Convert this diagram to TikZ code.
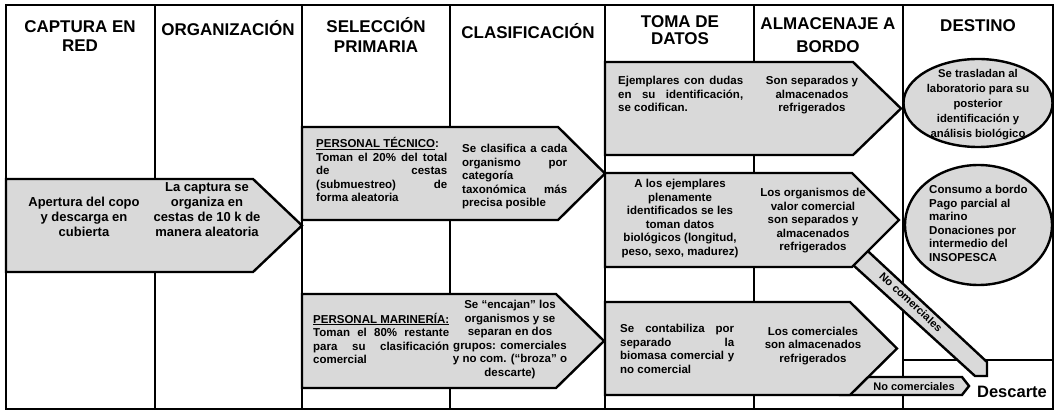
\documentclass[tikz,border=0pt]{standalone}
\usepackage{fontspec}
\setmainfont{Liberation Sans}
\usetikzlibrary{shapes.geometric}
\definecolor{boxgray}{HTML}{D9D9D9}
\begin{document}
\begin{tikzpicture}[x=1pt,y=-1pt,
  divider/.style={line width=2.8pt},
  chevron/.style={draw=black, fill=boxgray, line width=2.4pt, line join=miter},
  destell/.style={ellipse, draw=black, fill=boxgray, line width=2.4pt, inner sep=0pt},
  hdr/.style={font=\bfseries\fontsize{17}{#1}\selectfont, align=center, inner sep=0pt, anchor=base},
  hdr/.default=19,
  bodyc/.style={font=\bfseries\fontsize{11.5}{13.5}\selectfont, align=center, inner sep=0pt, anchor=base},
  bodyl/.style={font=\bfseries\fontsize{11.5}{13.5}\selectfont, align=left, inner sep=0pt, anchor=base west},
  bigc/.style={font=\bfseries\fontsize{13}{15}\selectfont, align=center, inner sep=0pt, anchor=base},
  smallc/.style={font=\bfseries\fontsize{11}{13}\selectfont, inner sep=0pt},
]
\useasboundingbox[fill=white] (0,0) rectangle (1058,414);

% column dividers
\draw[divider] (155,5) -- (155,409);
\draw[divider] (302,5) -- (302,409);
\draw[divider] (450,5) -- (450,409);
\draw[divider] (605,5) -- (605,409);
\draw[divider] (754,5) -- (754,409);
\draw[divider] (903,5) -- (903,409);
\draw[divider] (903,360) -- (1053,360);

% diagonal "No comerciales" band and small arrow (under the chevrons)
\path[chevron] (857,241) -- (987,362) -- (987,376) -- (975,376) -- (841,254) -- cycle;
\path[chevron] (840,377) -- (962,377) -- (969,386) -- (962,395) -- (840,395) -- cycle;

% chevrons
\path[chevron] (6,179) -- (253,179) -- (302,225.5) -- (253,272) -- (6,272) -- cycle;
\path[chevron] (302,127) -- (558,127) -- (605,173.5) -- (558,220) -- (302,220) -- cycle;
\path[chevron] (302,294) -- (556,294) -- (604,341) -- (556,388) -- (302,388) -- cycle;
\path[chevron] (605,62) -- (853,62) -- (901,108.5) -- (853,155) -- (605,155) -- cycle;
\path[chevron] (605,173) -- (852,173) -- (899,220) -- (852,267) -- (605,267) -- cycle;
\path[chevron] (605,302) -- (850,302) -- (897,348.5) -- (850,395) -- (605,395) -- cycle;

% destination ellipses
\node[destell, minimum width=149pt, minimum height=88pt] (dest1) at (978,103) {};
\node[destell, minimum width=147pt, minimum height=120pt] (dest2) at (978.5,225) {};

% outer frame
\draw[divider] (6,5) rectangle (1053,409);

% headers (anchor = baseline of last line)
\node[hdr] (h1) at (80,52) {CAPTURA EN\\RED};
\node[hdr] (h2) at (228,36) {ORGANIZACIÓN};
\node[hdr=20] (h3) at (376,53) {SELECCIÓN\\PRIMARIA};
\node[hdr] (h4) at (528,39) {CLASIFICACIÓN};
\node[hdr=17] (h5) at (680,45) {TOMA DE\\DATOS};
\node[hdr=23] (h6) at (828,53) {ALMACENAJE A\\BORDO};
\node[hdr] (h7) at (978,32) {DESTINO};

% captura / organizacion
\node[bigc] (aper) at (84,237) {Apertura del copo\\y descarga en\\cubierta};
\node[bigc] (orga) at (207,237) {La captura se\\organiza en\\cestas de 10 k de\\manera aleatoria};

% personal tecnico
\node[bodyl] (tecl) at (316,202) {\underline{PERSONAL TÉCNICO}:\\\makebox[131pt][s]{Toman el 20\% del total}\\\makebox[131pt][s]{de cestas}\\\makebox[131pt][s]{(submuestreo) de}\\forma aleatoria};
\node[bodyl] (tecr) at (462,207) {\makebox[105pt][s]{Se clasifica a cada}\\\makebox[105pt][s]{organismo por}\\categoría\\\makebox[105pt][s]{taxonómica más}\\precisa posible};

% personal marineria
\node[bodyl] (marl) at (313,363.5) {\underline{PERSONAL MARINERÍA:}\\\makebox[136pt][s]{Toman el 80\% restante}\\\makebox[136pt][s]{para su clasificación}\\comercial};
\node[bodyc] (marr) at (510,376) {Se “encajan” los\\organismos y se\\separan en dos\\grupos: comerciales\\y no com. (“broza” o\\descarte)};

% toma de datos / almacenaje
\node[bodyl] (dudl) at (618,112) {\makebox[125pt][s]{Ejemplares con dudas}\\\makebox[125pt][s]{en su identificación,}\\se codifican.};
\node[bodyc] (dudr) at (812,112) {Son separados y\\almacenados\\refrigerados};
\node[bodyc] (idel) at (680,255.5) {A los ejemplares\\plenamente\\identificados se les\\toman datos\\biológicos (longitud,\\peso, sexo, madurez)};
\node[bodyc] (ider) at (813,251) {Los organismos de\\valor comercial\\son separados y\\almacenados\\refrigerados};
\node[bodyl] (conl) at (620,373) {\makebox[114pt][s]{Se contabiliza por}\\\makebox[114pt][s]{separado la}\\\makebox[114pt][s]{biomasa comercial y}\\no comercial};
\node[bodyc] (conr) at (813,362) {Los comerciales\\son almacenados\\refrigerados};

% destino texts
\node[font=\bfseries\fontsize{11.3}{15}\selectfont, align=center, inner sep=0pt, anchor=base] (d1t) at (978,138) {Se trasladan al\\laboratorio para su\\posterior\\identificación y\\análisis biológico};
\node[bodyl] (d2t) at (929,261.5) {Consumo a bordo\\Pago parcial al\\marino\\Donaciones por\\intermedio del\\INSOPESCA};

% no comerciales labels and descarte
\node[smallc, rotate=-43] (nc1) at (911,302) {No comerciales};
\node[smallc, anchor=base] (nc2) at (914,390) {No comerciales};
\node[font=\bfseries\fontsize{16.5}{19}\selectfont, inner sep=0pt, anchor=base] (desc) at (1012,397) {Descarte};
\end{tikzpicture}
\end{document}
